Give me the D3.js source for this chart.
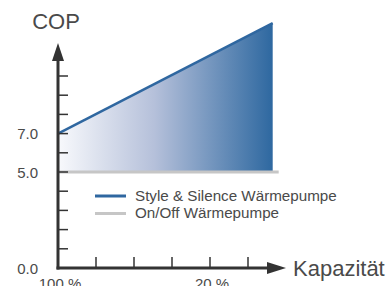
<!DOCTYPE html>
<html><head><meta charset="utf-8">
<script src="https://cdn.jsdelivr.net/npm/d3@7"></script>
<style>html,body{margin:0;padding:0;background:#fff;}svg{display:block;font-family:"Liberation Sans",Arial,sans-serif;}</style>
</head><body>
<script>
const seriesNames = ["Style & Silence Wärmepumpe", "On/Off Wärmepumpe"];
const capacity = [100, -13];          // Kapazität in %
const copInverter = [7.0, 12.75];     // Style & Silence
const copOnOff = [5.0, 5.0];          // On/Off
const yTickValues = [1,2,3,4,5,6,7,8,9,10];
const yLabels = [0.0, 5.0, 7.0];
const xTickValues = [80, 60, 40, 20, 0];
const xLabels = [100, 20];
const colors = ["#2f67a0", "#c6c6c6"];

const W = 391, H = 286;
const svg = d3.select("body").append("svg").attr("width", W).attr("height", H);

const x = d3.scaleLinear().domain([100, 20]).range([58, 210]);
const y = d3.scaleLinear().domain([0, 10]).range([268, 76]);

const defs = svg.append("defs");
const grad = defs.append("linearGradient").attr("id", "g").attr("x1", "0%").attr("x2", "100%").attr("y1", "0%").attr("y2", "0%");
grad.append("stop").attr("offset", "0%").attr("stop-color", "#f8f9fc");
grad.append("stop").attr("offset", "45%").attr("stop-color", "#b5c0da");
grad.append("stop").attr("offset", "100%").attr("stop-color", "#2e68a0");

// fill area between On/Off and inverter line
const area = d3.area().x((d,i)=>x(capacity[i])).y0((d,i)=>y(copOnOff[i])).y1(d=>y(d));
svg.append("path").datum(copInverter).attr("d", area).attr("fill", "url(#g)");

// On/Off line (slightly longer)
svg.append("line").attr("x1", x(capacity[0])).attr("x2", x(capacity[1]) + 6)
  .attr("y1", y(copOnOff[0])).attr("y2", y(copOnOff[1]))
  .attr("stroke", colors[1]).attr("stroke-width", 3);

// inverter line
const line = d3.line().x((d,i)=>x(capacity[i])).y(d=>y(d));
svg.append("path").datum(copInverter).attr("d", line).attr("fill", "none")
  .attr("stroke", colors[0]).attr("stroke-width", 2.5);

// axes
const axisColor = "#333";
const x0 = x(100), y0 = y(0);
svg.append("line").attr("x1", x0).attr("x2", x0).attr("y1", y0 + 1.5).attr("y2", 58).attr("stroke", axisColor).attr("stroke-width", 3);
svg.append("path").attr("d", `M${x0},43 L${x0-6},61 L${x0+6},61 Z`).attr("fill", axisColor);
svg.append("line").attr("x1", x0 - 1.5).attr("x2", 270).attr("y1", y0).attr("y2", y0).attr("stroke", axisColor).attr("stroke-width", 3);
svg.append("path").attr("d", `M286,${y0} L267,${y0-6} L267,${y0+6} Z`).attr("fill", axisColor);

svg.selectAll(".yt").data(yTickValues).enter().append("line")
  .attr("x1", x0).attr("x2", x0 + 10).attr("y1", d=>y(d)).attr("y2", d=>y(d))
  .attr("stroke", axisColor).attr("stroke-width", 1.5);
svg.selectAll(".xt").data(xTickValues).enter().append("line")
  .attr("x1", d=>x(d)).attr("x2", d=>x(d)).attr("y1", y0).attr("y2", y0 - 11)
  .attr("stroke", axisColor).attr("stroke-width", 1.5);

const txt = "#4a4a4a";
svg.selectAll(".yl").data(yLabels).enter().append("text")
  .attr("x", 38).attr("y", d=>y(d) + 5.5).attr("text-anchor", "end")
  .attr("font-size", 15).attr("fill", txt).text(d=>d.toFixed(1));
svg.selectAll(".xl").data(xLabels).enter().append("text")
  .attr("x", d=>x(d) + 2).attr("y", 289).attr("text-anchor", "middle")
  .attr("font-size", 15).attr("fill", txt).text(d=>d + " %");

svg.append("text").attr("x", 56).attr("y", 29).attr("text-anchor", "middle")
  .attr("font-size", 22).attr("fill", txt).text("COP");
svg.append("text").attr("x", 293).attr("y", 276)
  .attr("font-size", 22).attr("fill", txt).text("Kapazität");

// legend
const lg = svg.selectAll(".lg").data(seriesNames).enter().append("g")
  .attr("transform", (d,i)=>`translate(95,${196 + i*17.5})`);
lg.append("line").attr("x1", 0).attr("x2", 31).attr("y1", 0).attr("y2", 0)
  .attr("stroke", (d,i)=>colors[i]).attr("stroke-width", 3);
lg.append("text").attr("x", 40).attr("y", 4.5).attr("font-size", 15.2).attr("fill", txt).text(d=>d);
</script>
</body></html>
